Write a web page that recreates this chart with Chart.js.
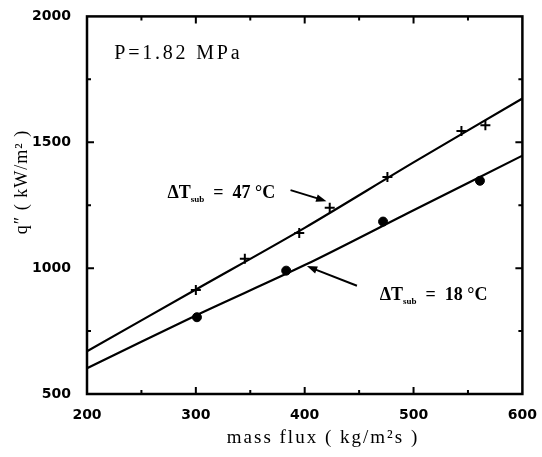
<!DOCTYPE html>
<html>
<head>
<meta charset="utf-8">
<script src="https://cdn.jsdelivr.net/npm/chart.js@4"></script>
<style>
  html, body { margin: 0; padding: 0; background: #fff; }
  canvas { display: block; }
</style>
</head>
<body>
<canvas id="c" width="542" height="457"></canvas>
<script>
// measured points, dT_sub = 47 C (crosses)
const massFlux47 = [300, 345, 395, 423, 476, 544, 566];
const heatFlux47 = [913, 1037, 1140, 1240, 1362, 1545, 1568];
// measured points, dT_sub = 18 C (dots)
const massFlux18 = [301, 383, 472, 561];
const heatFlux18 = [805, 990, 1185, 1347];
// fitted curves
const fitX = [200, 300, 400, 500, 600];
const fit47 = [670, 915, 1160, 1420, 1674];
const fit18 = [602, 812, 1012, 1230, 1447];

const xTicks = [200, 300, 400, 500, 600];
const yTicks = [500, 1000, 1500, 2000];

const pts = (xs, ys) => xs.map((x, i) => ({ x, y: ys[i] }));

const frame = {
  id: 'frame',
  afterDraw(c) {
    const { ctx, chartArea: a, scales: { x, y } } = c;
    ctx.save();
    ctx.strokeStyle = '#000';
    ctx.lineWidth = 2.5;
    ctx.strokeRect(a.left, a.top, a.right - a.left, a.bottom - a.top);

    // inward ticks on all four sides
    ctx.lineWidth = 2;
    for (let v = 250; v < 600; v += 50) {
      const px = x.getPixelForValue(v);
      const len = v % 100 === 0 ? 7 : 4;
      ctx.beginPath();
      ctx.moveTo(px, a.bottom); ctx.lineTo(px, a.bottom - len);
      ctx.moveTo(px, a.top); ctx.lineTo(px, a.top + len);
      ctx.stroke();
    }
    for (let v = 750; v < 2000; v += 250) {
      const py = y.getPixelForValue(v);
      const len = v % 500 === 0 ? 7 : 4;
      ctx.beginPath();
      ctx.moveTo(a.left, py); ctx.lineTo(a.left + len, py);
      ctx.moveTo(a.right, py); ctx.lineTo(a.right - len, py);
      ctx.stroke();
    }

    // axis titles
    ctx.fillStyle = '#000';
    ctx.textAlign = 'center';
    ctx.textBaseline = 'middle';
    ctx.font = '19px "Liberation Serif"';
    ctx.letterSpacing = '2px';
    ctx.fillText('mass flux ( kg/m²s )', 323, 438);
    ctx.font = '18px "Liberation Serif"';
    ctx.letterSpacing = '1px';
    ctx.save();
    ctx.translate(22, 182);
    ctx.rotate(-Math.PI / 2);
    ctx.fillText('q″ ( kW/m² )', 0, 0);
    ctx.restore();

    // pressure label
    ctx.textAlign = 'left';
    ctx.font = '20px "Liberation Serif"';
    ctx.letterSpacing = '2.8px';
    ctx.fillText('P=1.82 MPa', x.getPixelForValue(225), y.getPixelForValue(1853));
    ctx.letterSpacing = '0px';

    // curve labels
    const label = (vx, vy, val) => {
      let px = x.getPixelForValue(vx);
      const py = y.getPixelForValue(vy);
      ctx.font = 'bold 18px "Liberation Serif"';
      ctx.fillText('ΔT', px, py);
      px += ctx.measureText('ΔT').width;
      ctx.font = 'bold 9px "Liberation Serif"';
      ctx.fillText('sub', px, py + 6);
      px += ctx.measureText('sub').width;
      ctx.font = 'bold 18px "Liberation Serif"';
      ctx.fillText('  =  ' + val + ' °C', px, py);
    };
    label(274, 1297, 47);
    label(469, 890, 18);

    // arrows
    const arrow = (x0, y0, x1, y1) => {
      const ax = x.getPixelForValue(x0), ay = y.getPixelForValue(y0);
      const bx = x.getPixelForValue(x1), by = y.getPixelForValue(y1);
      const ang = Math.atan2(by - ay, bx - ax);
      ctx.lineWidth = 2;
      ctx.beginPath();
      ctx.moveTo(ax, ay);
      ctx.lineTo(bx - 6 * Math.cos(ang), by - 6 * Math.sin(ang));
      ctx.stroke();
      ctx.beginPath();
      ctx.moveTo(bx, by);
      ctx.lineTo(bx - 11 * Math.cos(ang - 0.35), by - 11 * Math.sin(ang - 0.35));
      ctx.lineTo(bx - 11 * Math.cos(ang + 0.35), by - 11 * Math.sin(ang + 0.35));
      ctx.closePath();
      ctx.fill();
    };
    arrow(387, 1310, 420, 1266);
    arrow(448, 930, 402, 1008);
    ctx.restore();
  }
};

const tickFont = { family: 'DejaVu Sans', size: 14, weight: 'bold' };
const plain = v => String(v);

new Chart(document.getElementById('c'), {
  type: 'scatter',
  data: {
    datasets: [
      {
        type: 'line',
        data: pts(fitX, fit47),
        borderColor: '#000',
        borderWidth: 2.2,
        pointRadius: 0,
        tension: 0.3
      },
      {
        type: 'line',
        data: pts(fitX, fit18),
        borderColor: '#000',
        borderWidth: 2.2,
        pointRadius: 0,
        tension: 0.3
      },
      {
        data: pts(massFlux47, heatFlux47),
        pointStyle: 'cross',
        pointRadius: 5,
        borderWidth: 2,
        borderColor: '#000'
      },
      {
        data: pts(massFlux18, heatFlux18),
        pointStyle: 'circle',
        pointRadius: 4.5,
        backgroundColor: '#000',
        borderColor: '#000'
      }
    ]
  },
  options: {
    responsive: false,
    devicePixelRatio: 1,
    animation: false,
    layout: { padding: { top: 13, right: 13, left: 0, bottom: 0 } },
    plugins: { legend: { display: false }, tooltip: { enabled: false } },
    scales: {
      x: {
        type: 'linear',
        min: 200,
        max: 600,
        afterBuildTicks: s => { s.ticks = xTicks.map(v => ({ value: v })); },
        afterFit: s => { s.height = 63; },
        grid: { display: false },
        border: { display: false },
        ticks: { font: tickFont, color: '#000', padding: 5, callback: plain }
      },
      y: {
        min: 500,
        max: 2000,
        afterBuildTicks: s => { s.ticks = yTicks.map(v => ({ value: v })); },
        afterFit: s => { s.width = 87; },
        grid: { display: false },
        border: { display: false },
        ticks: { font: tickFont, color: '#000', padding: 8, callback: plain }
      }
    }
  },
  plugins: [frame]
});
</script>
</body>
</html>
